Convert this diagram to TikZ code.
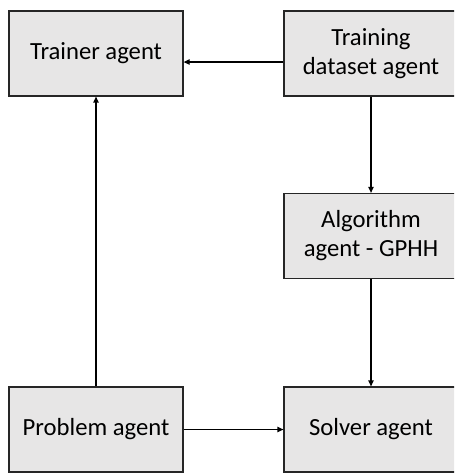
\documentclass[tikz,border=0pt]{standalone}
\usepackage{fontspec}
\setmainfont{Carlito}
\usetikzlibrary{arrows.meta}
\begin{document}
\begin{tikzpicture}[x=0.75pt,y=-0.75pt,
  agent/.style={draw=black!85,line width=0.9pt,fill=boxgray,
    minimum width=130.5pt,minimum height=63.75pt,inner sep=0pt,
    align=center,font=\fontsize{18.5}{21.8}\selectfont},
  link/.style={draw=black,line width=0.9pt,
    -{Triangle[length=4.5pt,width=4pt]}}]
\definecolor{boxgray}{HTML}{E7E6E6}
\useasboundingbox (0,0) rectangle (454,473);
\clip (0,0) rectangle (454,473);
\fill[white] (0,0) rectangle (454,473);
\node[agent] (trainer) at (96,53.5) {Trainer agent};
\node[agent] (dataset) at (371,53.5) {Training\\dataset agent};
\node[agent] (algo) at (371,236) {Algorithm\\agent - GPHH};
\node[agent] (problem) at (96,429.5) {Problem agent};
\node[agent] (solver) at (371,429.5) {Solver agent};
\draw[link] ([yshift=-6.4pt]dataset.west) -- ([yshift=-6.4pt]trainer.east);
\draw[link] (dataset) -- (algo);
\draw[link] (algo) -- (solver);
\draw[link] (problem) -- (trainer);
\draw[link] (problem) -- (solver);
\end{tikzpicture}
\end{document}
